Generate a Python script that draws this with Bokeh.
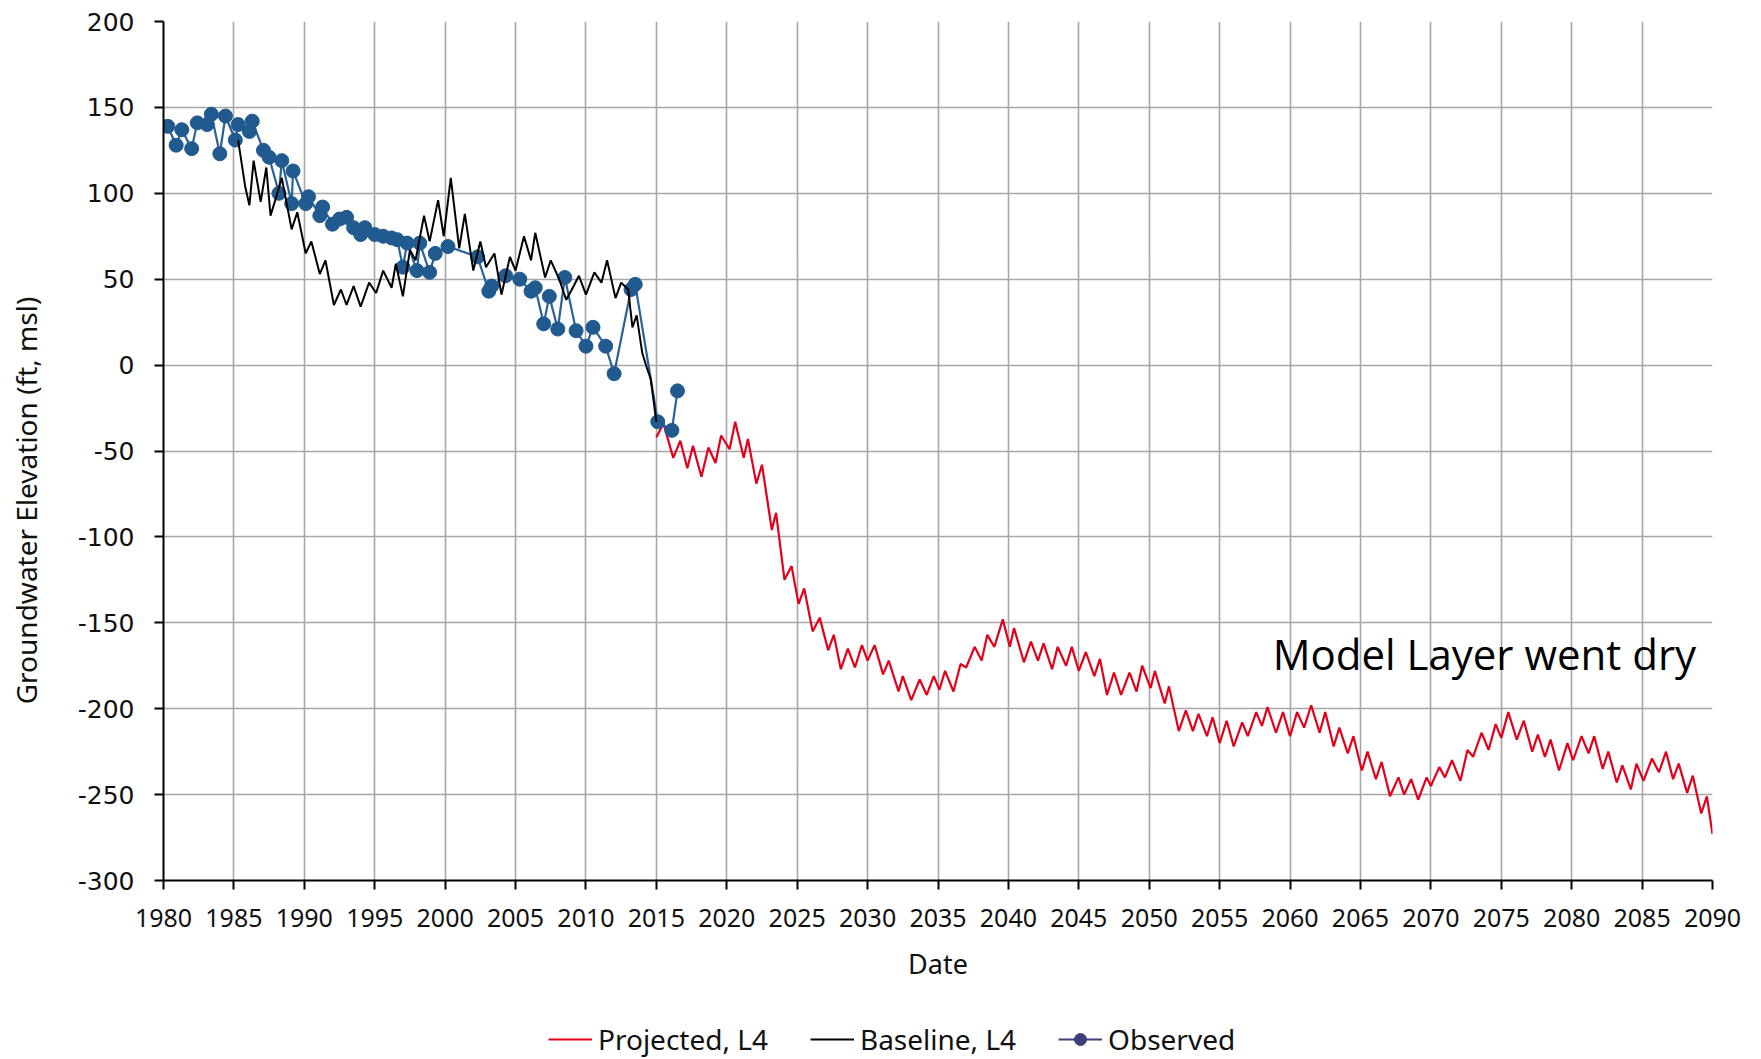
import math
from bokeh.plotting import figure
from bokeh.layouts import column, row
from bokeh.models import Range1d, FixedTicker, Legend, LegendItem, Label
from bokeh.embed import file_html
from bokeh.resources import INLINE

# ---------------- data ----------------
proj_year = [2015.0, 2015.5, 2016.2, 2016.7, 2017.2, 2017.6, 2018.2, 2018.7, 2019.2, 2019.6,
             2020.2, 2020.6, 2021.2, 2021.5, 2022.1, 2022.5, 2023.2, 2023.5, 2024.1, 2024.6,
             2025.1, 2025.5, 2026.1, 2026.6, 2027.2, 2027.6, 2028.1, 2028.6, 2029.1, 2029.6,
             2030.0, 2030.5, 2031.1, 2031.5, 2032.2, 2032.5, 2033.1, 2033.7, 2034.2, 2034.7,
             2035.1, 2035.5, 2036.1, 2036.6, 2037.0, 2037.6, 2038.1, 2038.5, 2039.0, 2039.6,
             2040.1, 2040.4, 2041.1, 2041.6, 2042.1, 2042.5, 2043.1, 2043.5, 2044.1, 2044.5,
             2045.0, 2045.5, 2046.1, 2046.5, 2047.0, 2047.5, 2048.0, 2048.6, 2049.1, 2049.5,
             2050.1, 2050.4, 2051.1, 2051.4, 2052.1, 2052.6, 2053.1, 2053.5, 2054.1, 2054.5,
             2055.0, 2055.5, 2056.0, 2056.6, 2057.0, 2057.6, 2058.0, 2058.4, 2059.0, 2059.5,
             2060.0, 2060.5, 2061.0, 2061.5, 2062.1, 2062.5, 2063.1, 2063.5, 2064.1, 2064.5,
             2065.1, 2065.5, 2066.1, 2066.5, 2067.1, 2067.7, 2068.1, 2068.6, 2069.1, 2069.7,
             2070.0, 2070.6, 2071.0, 2071.5, 2072.1, 2072.6, 2073.0, 2073.6, 2074.1, 2074.6,
             2075.0, 2075.5, 2076.1, 2076.6, 2077.2, 2077.6, 2078.1, 2078.5, 2079.1, 2079.7,
             2080.1, 2080.7, 2081.2, 2081.6, 2082.2, 2082.6, 2083.2, 2083.6, 2084.2, 2084.6,
             2085.1, 2085.7, 2086.2, 2086.7, 2087.2, 2087.6, 2088.2, 2088.6, 2089.2, 2089.6,
             2090.0]
proj_val = [-42, -34, -54, -44, -60, -47, -65, -48, -57, -41,
            -49, -33, -54, -43, -69, -58, -96, -86, -125, -117,
            -139, -130, -155, -147, -166, -157, -177, -165, -176, -163,
            -172, -163, -180, -172, -190, -181, -195, -183, -192, -181,
            -189, -178, -190, -174, -176, -164, -172, -157, -164, -148,
            -164, -153, -173, -161, -172, -162, -177, -164, -175, -164,
            -178, -167, -181, -171, -192, -179, -192, -179, -190, -175,
            -188, -178, -197, -187, -213, -201, -213, -203, -216, -205,
            -220, -207, -222, -208, -216, -202, -210, -199, -214, -202,
            -216, -202, -211, -198, -214, -202, -222, -211, -226, -216,
            -236, -225, -241, -231, -251, -240, -250, -241, -253, -240,
            -245, -234, -240, -230, -242, -224, -228, -214, -224, -209,
            -217, -202, -218, -207, -225, -215, -228, -218, -236, -220,
            -230, -216, -226, -216, -235, -225, -243, -233, -247, -232,
            -242, -229, -237, -225, -241, -232, -249, -239, -261, -251,
            -273]

base_year = [1985.3, 1985.8, 1986.1, 1986.4, 1986.9, 1987.3, 1987.6, 1987.9, 1988.4, 1989.1,
             1989.5, 1990.1, 1990.5, 1991.1, 1991.5, 1992.1, 1992.6, 1993.0, 1993.5, 1994.0,
             1994.6, 1995.1, 1995.6, 1996.2, 1996.5, 1997.0, 1997.5, 1997.9, 1998.5, 1998.9,
             1999.5, 1999.9, 2000.4, 2001.0, 2001.4, 2002.0, 2002.5, 2002.9, 2003.5, 2004.0,
             2004.6, 2005.0, 2005.6, 2006.1, 2006.4, 2007.1, 2007.5, 2008.1, 2008.6, 2009.0,
             2009.5, 2010.0, 2010.6, 2011.1, 2011.5, 2012.1, 2012.5, 2013.0, 2013.3, 2013.6,
             2014.0, 2014.3, 2014.6, 2015.0]
base_val = [131, 104, 93, 119, 95, 115, 87, 95, 109, 79,
            89, 65, 72, 53, 61, 35, 44, 35, 46, 34,
            48, 42, 55, 45, 59, 40, 67, 61, 87, 72,
            96, 75, 109, 68, 88, 55, 72, 57, 65, 41,
            63, 55, 75, 61, 77, 51, 61, 50, 38, 44,
            52, 41, 54, 48, 61, 39, 48, 44, 22, 29,
            7, -1, -8, -33]

obs_year = [1980.3, 1980.9, 1981.3, 1982.0, 1982.4, 1983.1, 1983.4, 1984.0, 1984.4, 1985.1,
            1985.3, 1986.1, 1986.3, 1987.1, 1987.5, 1988.2, 1988.4, 1989.1, 1989.2, 1990.1,
            1990.3, 1991.1, 1991.3, 1992.0, 1992.5, 1993.0, 1993.5, 1994.0, 1994.3, 1995.0,
            1995.6, 1996.2, 1996.6, 1997.0, 1997.3, 1998.0, 1998.2, 1998.9, 1999.3, 2000.2,
            2002.3, 2003.1, 2003.3, 2004.3, 2005.3, 2006.1, 2006.4, 2007.0, 2007.4, 2008.0,
            2008.5, 2009.3, 2010.0, 2010.5, 2011.4, 2012.0, 2013.2, 2013.5, 2015.1, 2016.1,
            2016.5]
obs_val = [139, 128, 137, 126, 141, 140, 146, 123, 145, 131,
           140, 136, 142, 125, 121, 100, 119, 94, 113, 94,
           98, 87, 92, 82, 85, 86, 80, 76, 80, 76,
           75, 74, 73, 57, 71, 55, 71, 54, 65, 69,
           63, 43, 46, 52, 50, 43, 45, 24, 40, 21,
           51, 20, 11, 22, 11, -5, 44, 47, -33, -38,
           -15]

x_ticks = list(range(1980, 2091, 5))
y_ticks = list(range(-300, 201, 50))

RED = "#e3001b"
BLUE_LINE = "#2b6199"
BLUE_DOT = "#215a8f"
TXT = "#111111"

# ---------------- main figure ----------------
p = figure(width=1716, height=1005,
           x_range=Range1d(1980, 2090), y_range=Range1d(-300, 200),
           output_backend="svg", toolbar_location=None,
           min_border_left=118, min_border_right=49,
           min_border_top=21, min_border_bottom=125)
p.outline_line_color = None
p.background_fill_color = "white"
p.border_fill_color = "white"

p.xaxis.ticker = FixedTicker(ticks=x_ticks)
p.yaxis.ticker = FixedTicker(ticks=y_ticks)
p.yaxis.major_label_overrides = {t: str(t) for t in y_ticks}
p.xgrid.ticker = FixedTicker(ticks=x_ticks)
p.ygrid.ticker = FixedTicker(ticks=y_ticks)
for g in (p.xgrid, p.ygrid):
    g.grid_line_color = "#a6a6a6"
    g.grid_line_width = 1.6

for ax in (p.xaxis, p.yaxis):
    ax.axis_line_color = "black"
    ax.axis_line_width = 2
    ax.major_tick_line_color = "black"
    ax.major_tick_line_width = 2
    ax.major_tick_out = 9
    ax.major_tick_in = 0
    ax.minor_tick_line_color = None
    ax.major_label_text_color = TXT

p.xaxis.major_label_text_font = "Noto Sans"
p.xaxis.major_label_text_font_size = "25px"
p.xaxis.major_label_standoff = 19
p.xaxis.axis_label = "Date"
p.xaxis.axis_label_text_font = "Noto Sans"
p.xaxis.axis_label_text_font_size = "27px"
p.xaxis.axis_label_text_font_style = "normal"
p.xaxis.axis_label_text_color = TXT
p.xaxis.axis_label_standoff = 15

p.yaxis.major_label_text_font = "DejaVu Sans"
p.yaxis.major_label_text_font_size = "25px"
p.yaxis.major_label_standoff = 20

p.line(proj_year, proj_val, line_color=RED, line_width=2.2)
p.line(obs_year, obs_val, line_color=BLUE_LINE, line_width=2.2)
p.scatter(obs_year, obs_val, size=14, fill_color=BLUE_DOT, line_color=BLUE_DOT)
p.line(base_year, base_val, line_color="black", line_width=2)

note = Label(x=2073.8, y=-168, text="Model Layer went dry",
             text_align="center", text_baseline="middle",
             text_font="Open Sans", text_font_size="42px", text_color="black")
p.add_layout(note)

# ---------------- y-axis title strip ----------------
# (its frame is aligned with the main plot frame: 859 px tall, bottom at y=880)
py = figure(width=45, height=1005, x_range=Range1d(0, 1), y_range=Range1d(0, 1),
            output_backend="svg", toolbar_location=None,
            x_axis_type=None, y_axis_type=None, min_border=0)
py.outline_line_color = None
py.add_layout(Label(x=25, y=380, x_units="screen", y_units="screen",
                    text="Groundwater Elevation (ft, msl)", angle=math.pi / 2,
                    text_align="center", text_baseline="middle",
                    text_font="Noto Sans", text_font_size="28px", text_color=TXT))

# ---------------- legend strip ----------------
# legend renderers reuse the series but lie outside this strip's (0..1) ranges
pl = figure(width=1761, height=54, x_range=Range1d(0, 1), y_range=Range1d(0, 1),
            output_backend="svg", toolbar_location=None,
            x_axis_type=None, y_axis_type=None, min_border=0)
pl.outline_line_color = None
lr1 = pl.line(proj_year, proj_val, line_color=RED, line_width=2.2)
lr2 = pl.line(base_year, base_val, line_color="black", line_width=2)
lr3 = pl.line(obs_year, obs_val, line_color="#3c3f7a", line_width=2.2)
lr4 = pl.scatter(obs_year, obs_val, size=11, fill_color="#3c3f7a", line_color="#3c3f7a")
legend = Legend(items=[
    LegendItem(label="Projected, L4", renderers=[lr1]),
    LegendItem(label="Baseline, L4", renderers=[lr2]),
    LegendItem(label="Observed", renderers=[lr3, lr4]),
], location=(548, 1), orientation="horizontal")
legend.label_text_font = "Noto Sans"
legend.label_text_font_size = "28px"
legend.label_text_color = TXT
legend.glyph_width = 44
legend.glyph_height = 30
legend.spacing = 42
legend.padding = 0
legend.margin = 0
legend.border_line_color = None
legend.background_fill_alpha = 0
legend.label_standoff = 6
pl.add_layout(legend, "center")

layout = column(row(py, p, spacing=0), pl, spacing=0)
open("out.html", "w").write(file_html(layout, INLINE))
